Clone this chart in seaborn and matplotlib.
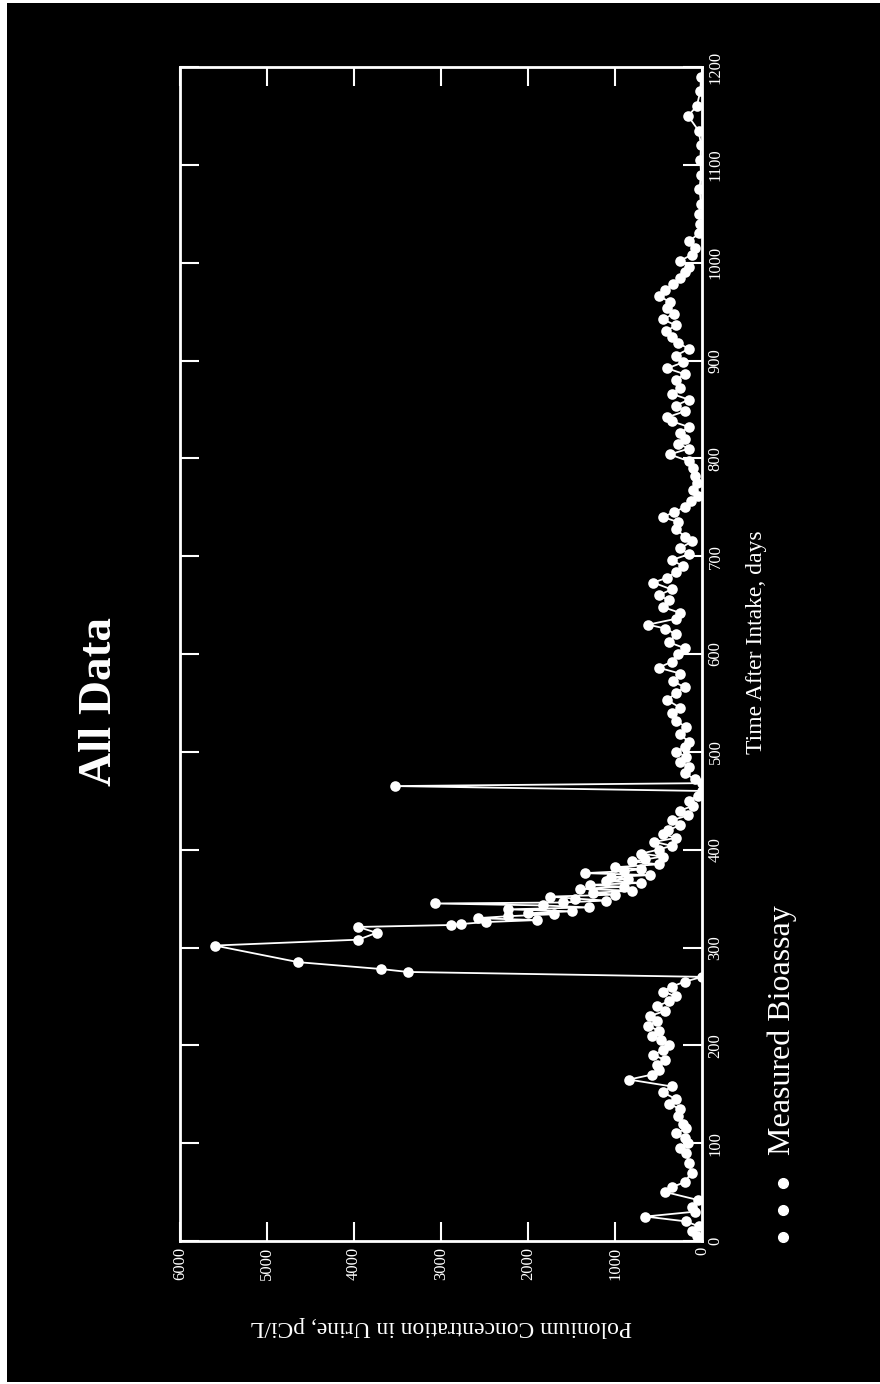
import matplotlib
matplotlib.use("Agg")
import matplotlib.pyplot as plt
from matplotlib.patches import Rectangle
from matplotlib.lines import Line2D
import seaborn as sns
import pandas as pd

# measured bioassay, time after intake (days) and polonium in urine (pCi/L)
days = [0, 5, 10, 15, 20, 25, 30, 35, 42, 50, 55, 60, 70, 80, 90, 95, 100, 105, 110, 115,
        120, 128, 135, 140, 145, 152, 158, 165, 170, 175, 180, 185, 190, 195, 200, 205, 210,
        215, 220, 225, 230, 235, 240, 245, 250, 255, 260, 265, 270, 275, 278, 285, 302, 308,
        315, 321, 323, 324, 326, 328, 330, 332, 334, 335, 337, 339, 341, 343, 345, 346, 348,
        350, 352, 354, 356, 358, 360, 362, 364, 366, 368, 370, 372, 374, 376, 378, 380, 382,
        385, 388, 390, 393, 396, 400, 404, 408, 412, 416, 420, 425, 430, 435, 440, 445, 450,
        455, 460, 465, 468, 472, 478, 485, 490, 495, 500, 505, 510, 518, 525, 532, 540, 545,
        553, 560, 566, 572, 580, 586, 592, 600, 606, 612, 620, 626, 630, 636, 642, 648, 655,
        660, 666, 673, 678, 684, 690, 696, 702, 708, 715, 720, 728, 735, 740, 745, 750, 756,
        762, 768, 775, 782, 790, 797, 804, 810, 815, 820, 826, 832, 838, 842, 848, 854, 860,
        866, 872, 880, 886, 892, 898, 905, 912, 918, 924, 930, 936, 942, 948, 954, 960, 966,
        972, 978, 984, 990, 996, 1002, 1008, 1015, 1022, 1030, 1040, 1050, 1060, 1075, 1090,
        1105, 1120, 1135, 1150, 1160, 1175, 1190]
conc = [0, 60, 120, 40, 180, 650, 80, 120, 50, 420, 350, 200, 120, 150, 180, 250, 160, 200,
        300, 180, 220, 280, 250, 380, 300, 450, 350, 840, 580, 500, 520, 420, 560, 450, 380,
        470, 580, 500, 620, 520, 600, 430, 520, 380, 300, 450, 350, 200, 0, 3380, 3690, 4640,
        5600, 3950, 3740, 3950, 2880, 2770, 2480, 1900, 2580, 2230, 1700, 2000, 1500, 2230,
        1300, 1830, 3070, 1600, 1100, 1460, 1750, 1000, 1250, 800, 1400, 900, 1290, 700, 1100,
        850, 1045, 600, 1345, 900, 700, 1000, 500, 800, 655, 450, 700, 500, 350, 550, 300, 450,
        390, 250, 350, 160, 250, 100, 150, 50, 0, 3530, 0, 80, 200, 150, 250, 180, 300, 200,
        150, 250, 180, 300, 350, 250, 400, 300, 200, 330, 250, 500, 350, 280, 200, 380, 300,
        420, 620, 300, 250, 450, 380, 500, 350, 560, 400, 300, 220, 350, 150, 250, 120, 200,
        300, 280, 450, 320, 200, 130, 50, 100, 60, 80, 100, 150, 370, 150, 280, 200, 250, 150,
        350, 400, 200, 300, 150, 350, 250, 300, 200, 400, 220, 300, 150, 280, 350, 410, 300,
        450, 320, 400, 370, 500, 430, 330, 250, 200, 150, 250, 120, 80, 150, 30, 20, 40, 10,
        30, 10, 20, 10, 40, 160, 60, 20, 10]

time_ticks = list(range(0, 1201, 100))
conc_ticks = list(range(0, 6001, 1000))

df = pd.DataFrame({"days": days, "conc": conc})

sns.set_style("dark")
plt.rcParams["font.family"] = ["Liberation Serif", "DejaVu Serif"]

fig = plt.figure(figsize=(8.8, 13.84), dpi=100, facecolor="white")
# black page inside a thin white border
fig.patches.append(Rectangle((7 / 880, 2 / 1384), 1 - 7 / 880, 1 - 5 / 1384,
                             transform=fig.transFigure, facecolor="black",
                             edgecolor="none", zorder=-10))

# the whole chart is turned a quarter turn: time runs upward, concentration leftward
ax = fig.add_axes([180 / 880, 1 - 1241 / 1384, 522 / 880, 1174 / 1384])
ax.set_zorder(2)
ax.set_facecolor("black")

sns.lineplot(data=df, x="conc", y="days", sort=False, estimator=None,
             color="white", lw=1.3, ax=ax)
sns.scatterplot(data=df, x="conc", y="days", color="white", s=58,
                edgecolor="white", linewidth=0, ax=ax, zorder=3)

ax.set_xlim(6000, 0)
ax.set_ylim(0, 1200)
ax.set_xticks(conc_ticks)
ax.set_yticks(time_ticks)
ax.grid(False)

for sp in ax.spines.values():
    sp.set_color("white")
    sp.set_linewidth(2)
    sp.set_visible(True)

ax.yaxis.tick_right()
ax.yaxis.set_label_position("right")
ax.tick_params(direction="in", length=14, width=1.5, color="white",
               top=True, bottom=True, left=True, right=True,
               labelcolor="white", labelsize=12, pad=4)
for lab in ax.get_xticklabels():
    lab.set_rotation(90)
    lab.set_va("top")
for lab in ax.get_yticklabels():
    lab.set_rotation(90)
    lab.set_va("center")

ax.set_ylabel("Time After Intake, days", color="white", fontsize=17,
              rotation=90, labelpad=14)
ax.yaxis.set_label_coords(1.085, 0.51)
ax.set_xlabel("Polonium Concentration in Urine, pCi/L", color="white",
              fontsize=17, rotation=180, labelpad=26)

fig.text(100 / 880, 1 - 702 / 1384, "All Data", color="white", fontsize=34,
         fontweight="bold", rotation=90, ha="center", va="center")

# legend, drawn sideways like the rest
fig.text(782 / 880, 1 - 1030 / 1384, "Measured Bioassay", color="white",
         fontsize=23, rotation=90, ha="center", va="center")
fig.add_artist(Line2D([783 / 880] * 3, [1 - 1183 / 1384, 1 - 1210 / 1384, 1 - 1237 / 1384],
                      transform=fig.transFigure, linestyle="none", marker="o",
                      markersize=7, color="white"))

fig.savefig("out.png", dpi=100, facecolor=fig.get_facecolor())
